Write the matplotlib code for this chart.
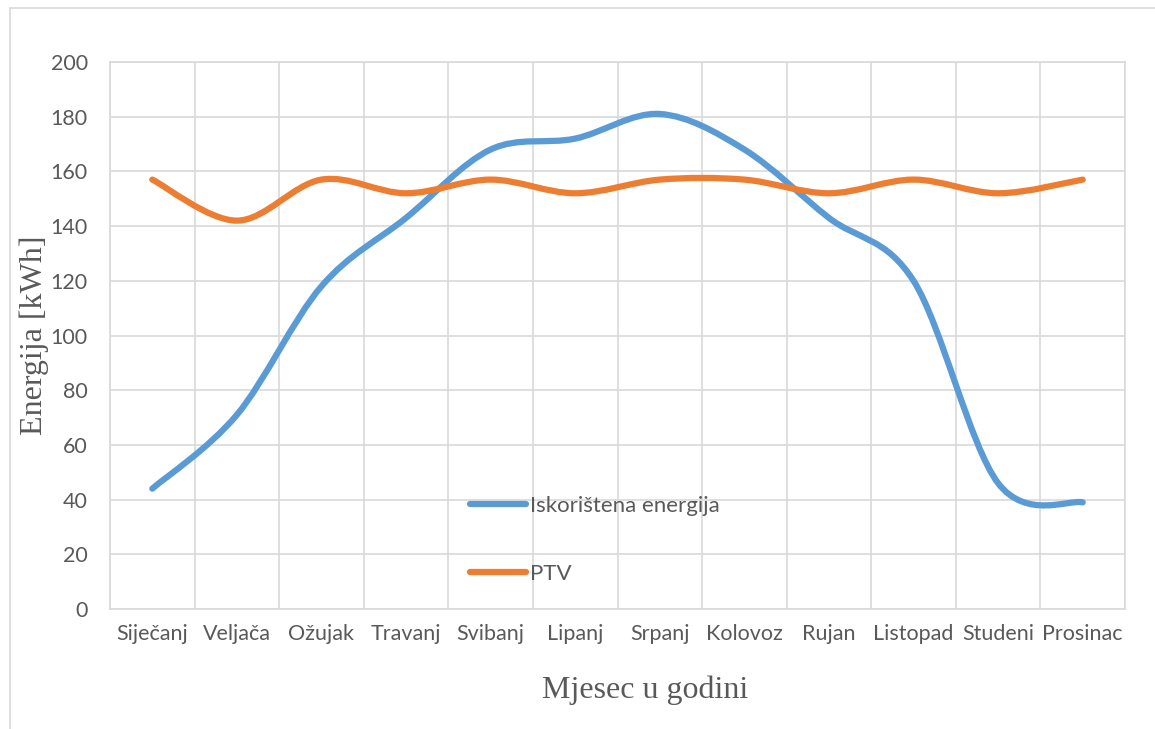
# Monthly energy chart: used energy vs. domestic hot water (PTV)
import matplotlib
matplotlib.use("Agg")
import matplotlib.pyplot as plt
from matplotlib.path import Path
from matplotlib.patches import PathPatch, Rectangle
from matplotlib.lines import Line2D

# Data
months = ["Siječanj", "Veljača", "Ožujak", "Travanj", "Svibanj", "Lipanj",
          "Srpanj", "Kolovoz", "Rujan", "Listopad", "Studeni", "Prosinac"]
iskoristena = [44, 71, 118, 143, 168, 172, 181, 168, 143, 120, 46, 39]
ptv = [157, 142, 157, 152, 157, 152, 157, 157, 152, 157, 152, 157]
y_ticks = [0, 20, 40, 60, 80, 100, 120, 140, 160, 180, 200]

BLUE = "#5B9BD5"
ORANGE = "#ED7D31"
GRID = "#D9D9D9"
TEXT = "#595959"


# Smoothed line like Excel: cubic bezier segments through every data point
def smooth_path(xs, ys):
    pts = list(zip(xs, ys))
    n = len(pts)
    verts = [pts[0]]
    codes = [Path.MOVETO]
    for i in range(n - 1):
        p0 = pts[max(i - 1, 0)]
        p1 = pts[i]
        p2 = pts[i + 1]
        p3 = pts[min(i + 2, n - 1)]
        c1 = (p1[0] + (p2[0] - p0[0]) / 6, p1[1] + (p2[1] - p0[1]) / 6)
        c2 = (p2[0] - (p3[0] - p1[0]) / 6, p2[1] - (p3[1] - p1[1]) / 6)
        verts += [c1, c2, p2]
        codes += [Path.CURVE4] * 3
    return Path(verts, codes)


fig = plt.figure(figsize=(11.55, 7.29), dpi=100)
ax = fig.add_axes([110 / 1155, 1 - 609 / 729, 1015 / 1155, 547 / 729])

# outer chart border (cut off at right and bottom like the picture)
fig.patches.append(Rectangle((10 / 1155, -0.1), 2, 1.1 - 8 / 729,
                             transform=fig.transFigure, fill=False,
                             edgecolor=GRID, linewidth=1.2))

x = list(range(len(months)))
for vals, col in [(iskoristena, BLUE), (ptv, ORANGE)]:
    ax.add_patch(PathPatch(smooth_path(x, vals), facecolor="none", edgecolor=col,
                           linewidth=4.5, capstyle="round", joinstyle="round",
                           zorder=3))

ax.set_xlim(-0.5, len(months) - 0.5)
ax.set_ylim(0, 200)
ax.set_yticks(y_ticks)
ax.set_xticks(x)
ax.set_xticklabels(months)
ax.set_xticks([i - 0.5 for i in range(len(months) + 1)], minor=True)

ax.grid(True, which="major", axis="y", color=GRID, linewidth=1.2)
ax.grid(True, which="minor", axis="x", color=GRID, linewidth=1.2)
ax.set_axisbelow(True)
for s in ax.spines.values():
    s.set_color(GRID)
    s.set_linewidth(1.2)

ax.tick_params(axis="both", which="both", length=0, colors=TEXT, labelsize=15.5)
ax.tick_params(axis="x", pad=11)
ax.tick_params(axis="y", pad=16)
for lab in ax.get_xticklabels() + ax.get_yticklabels():
    lab.set_fontfamily("Lato")

fig.text(645 / 1155, 1 - 690 / 729, "Mjesec u godini", family="Liberation Serif",
         fontsize=23, color=TEXT, ha="center", va="center")
fig.text(34 / 1155, 1 - 335 / 729, "Energija [kWh]", family="Liberation Serif",
         fontsize=23, color=TEXT, ha="center", va="center", rotation=90)

handles = [Line2D([], [], color=BLUE, linewidth=4.5, solid_capstyle="round"),
           Line2D([], [], color=ORANGE, linewidth=4.5, solid_capstyle="round")]
leg = fig.legend(handles, ["Iskorištena energija", "PTV"], loc="upper left",
                 bbox_to_anchor=(470 / 1155, 1 - 496 / 729),
                 bbox_transform=fig.transFigure, frameon=False, borderpad=0,
                 borderaxespad=0, handlelength=2.5, handletextpad=0.2,
                 labelspacing=2.15, prop={"family": "Lato", "size": 16})
for t in leg.get_texts():
    t.set_color(TEXT)

fig.savefig("out.png", dpi=100)
